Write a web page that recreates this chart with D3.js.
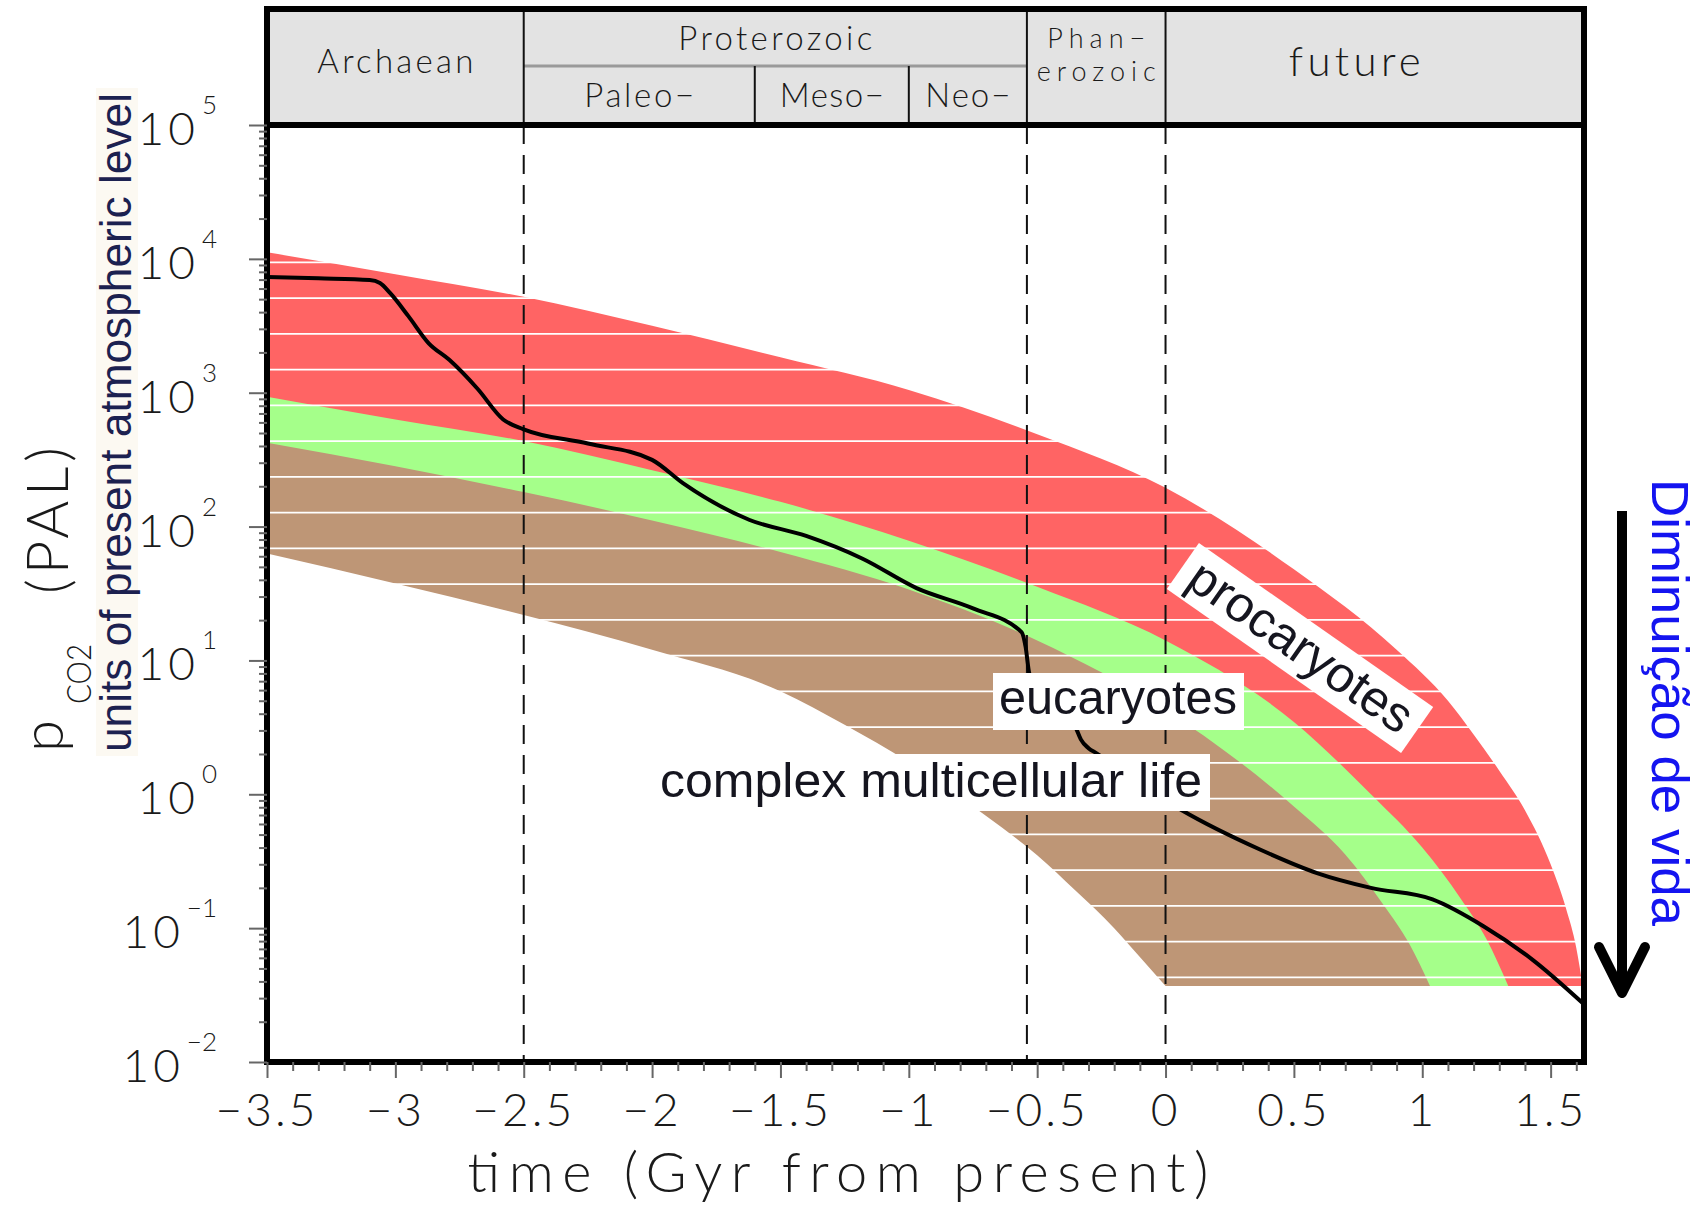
<!DOCTYPE html>
<html><head><meta charset="utf-8">
<script src="https://cdn.jsdelivr.net/npm/d3@7"></script>
<style>
html,body{margin:0;padding:0;background:#fff;}
svg{display:block;}
.hv{font-family:Lato,"DejaVu Sans",sans-serif;font-weight:300;fill:#1a1a1a;}
.lab{font-family:"Liberation Sans",Arial,Helvetica,sans-serif;fill:#15151f;}
</style></head><body>
<svg id="c" width="1708" height="1208"></svg>
<script>
// ---------------- data ----------------
const xMajorTicks = [-3.5,-3,-2.5,-2,-1.5,-1,-0.5,0,0.5,1,1.5];
const yDecades = [-2,-1,0,1,2,3,4,5];
const eraBoundaries = [-2.5,-0.54,0];
const subEraBoundaries = [-1.6,-1.0];
const eras = [
  {name:["Archaean"], from:-3.5, to:-2.5, row:"full"},
  {name:["Proterozoic"], from:-2.5, to:-0.54, row:"top"},
  {name:["Paleo−"], from:-2.5, to:-1.6, row:"bottom"},
  {name:["Meso−"], from:-1.6, to:-1.0, row:"bottom"},
  {name:["Neo−"], from:-1.0, to:-0.54, row:"bottom"},
  {name:["Phan−","erozoic"], from:-0.54, to:0, row:"full"},
  {name:["future"], from:0, to:1.63, row:"full"}
];
const floorPAL = 0.037;
// upper edge of procaryote domain (time Gyr, pCO2 PAL)
const procaryotesEdge = [[-3.5,11200],[-3.0,7670],[-2.5,5200],[-2.0,3160],[-1.5,1840],[-1.0,1050],[-0.5,490],[0,195],[0.5,47.9],[0.9,12.0],[1.1,5.0],[1.2,2.8],[1.3,1.5],[1.4,0.76],[1.5,0.30],[1.56,0.14],[1.6,0.071],[1.625,0.037]];
// upper edge of eucaryote domain
const eucaryotesEdge = [[-3.5,933],[-3.0,631],[-2.5,435],[-2.0,263],[-1.5,153],[-1.0,78.5],[-0.5,35.5],[0,14.1],[0.5,3.47],[0.8,1.0],[1.0,0.40],[1.15,0.166],[1.25,0.083],[1.335,0.037]];
// upper edge of complex multicellular life domain
const multicellularEdge = [[-3.5,423],[-3.0,282],[-2.5,181],[-2.0,111],[-1.5,64.6],[-1.0,33.9],[-0.5,14.1],[0,4.27],[0.5,0.81],[0.7,0.355],[0.85,0.148],[0.95,0.076],[1.03,0.037]];
// common lower edge of the domains
const lowerEdge = [[-3.5,62.8],[-3.0,37.6],[-2.5,21.8],[-2.0,12.0],[-1.5,5.89],[-1.25,3.31],[-1.0,1.74],[-0.7,0.69],[-0.5,0.35],[-0.35,0.19],[-0.2,0.10],[-0.1,0.061],[0,0.037]];
// pCO2 evolution
const pco2Curve = [[-3.5,7330],[-3.3,7160],[-3.1,6950],[-3.06,6600],[-3.02,5540],[-2.95,3750],[-2.87,2340],[-2.79,1760],[-2.68,1070],[-2.58,631],[-2.5,533],[-2.25,417],[-2.0,315],[-1.88,211],[-1.62,112],[-1.4,85.1],[-1.18,57.5],[-0.97,34.7],[-0.75,24.5],[-0.56,16.2],[-0.545,12.6],[-0.53,7.94],[-0.35,3.16],[-0.33,2.57],[-0.3,2.21],[-0.27,2.03],[0.06,0.766],[0.37,0.385],[0.59,0.258],[0.80,0.20],[1.04,0.164],[1.24,0.103],[1.43,0.058],[1.63,0.027]];

// ---------------- layout ----------------
const L = 267, R = 1584, T = 9, HB = 125, B = 1062;
const svg = d3.select("#c");
const x = d3.scaleLinear().domain([-3.5, 1.63]).range([L, R]);
const y = d3.scaleLog().domain([0.01, 1e5]).range([B, HB]);

const defs = svg.append("defs");
defs.append("clipPath").attr("id","plot").append("rect").attr("x",L).attr("y",HB).attr("width",R-L).attr("height",B-HB);

const plot = svg.append("g").attr("clip-path","url(#plot)");
const areaTo = (base) => d3.area().x(d=>x(d[0])).y0(base).y1(d=>y(d[1])).curve(d3.curveMonotoneX);
const fl = y(floorPAL);
plot.append("path").datum(procaryotesEdge).attr("d", areaTo(fl)).attr("fill","#ff6464");
plot.append("path").datum(eucaryotesEdge).attr("d", areaTo(fl)).attr("fill","#a5ff8a");
plot.append("path").datum(multicellularEdge).attr("d", areaTo(fl)).attr("fill","#be9676");
plot.append("path").datum(lowerEdge).attr("d", areaTo(B+5)).attr("fill","#ffffff");
// white hatch stripes
plot.selectAll("line.stripe").data(d3.range(226.55, B, 35.75)).join("line")
  .attr("x1",L).attr("x2",R).attr("y1",d=>d).attr("y2",d=>d)
  .attr("stroke","#ffffff").attr("stroke-width",1.8);
// dashed era lines
plot.selectAll("line.era").data(eraBoundaries).join("line")
  .attr("x1",d=>x(d)).attr("x2",d=>x(d)).attr("y1",HB).attr("y2",B)
  .attr("stroke","#111").attr("stroke-width",2).attr("stroke-dasharray","19 11");
// pCO2 curve
plot.append("path").datum(pco2Curve)
  .attr("d", d3.line().x(d=>x(d[0])).y(d=>y(d[1])).curve(d3.curveMonotoneX))
  .attr("fill","none").attr("stroke","#000").attr("stroke-width",4).attr("stroke-linejoin","round");

// labels
const g1 = svg.append("g");
g1.append("rect").attr("x",993).attr("y",673).attr("width",251).attr("height",57).attr("fill","#fff");
g1.append("text").attr("class","lab").attr("x",1118).attr("y",714).attr("text-anchor","middle")
  .attr("font-size",48).attr("textLength",238).attr("lengthAdjust","spacingAndGlyphs").text("eucaryotes");
g1.append("rect").attr("x",654).attr("y",754).attr("width",556).attr("height",57).attr("fill","#fff");
g1.append("text").attr("class","lab").attr("x",931).attr("y",797).attr("text-anchor","middle")
  .attr("font-size",48).attr("textLength",542).attr("lengthAdjust","spacingAndGlyphs").text("complex multicellular life");
const gp = svg.append("g").attr("transform","translate(1300,648) rotate(35)");
gp.append("rect").attr("x",-143).attr("y",-28).attr("width",286).attr("height",56).attr("fill","#fff");
gp.append("text").attr("class","lab").attr("x",0).attr("y",15).attr("text-anchor","middle")
  .attr("font-size",50).attr("textLength",262).attr("lengthAdjust","spacingAndGlyphs").text("procaryotes");

// header
svg.append("rect").attr("x",L).attr("y",T).attr("width",R-L).attr("height",HB-T).attr("fill","#e3e3e3");
svg.append("line").attr("x1",x(-2.5)).attr("x2",x(-0.54)).attr("y1",66).attr("y2",66).attr("stroke","#9a9a9a").attr("stroke-width",3);
svg.selectAll("line.hd").data(eraBoundaries).join("line")
  .attr("x1",d=>x(d)).attr("x2",d=>x(d)).attr("y1",T).attr("y2",HB).attr("stroke","#111").attr("stroke-width",2);
svg.selectAll("line.hs").data(subEraBoundaries).join("line")
  .attr("x1",d=>x(d)).attr("x2",d=>x(d)).attr("y1",66).attr("y2",HB).attr("stroke","#111").attr("stroke-width",2);
const headStyle = {
  "Archaean":{fs:33, ys:[73], w:156},
  "Proterozoic":{fs:33, ys:[50], w:194},
  "Paleo−":{fs:33, ys:[107], w:110},
  "Meso−":{fs:33, ys:[107], w:104},
  "Neo−":{fs:33, ys:[107], w:85},
  "Phan−":{fs:27, ys:[48,81], ls:6},
  "future":{fs:42, ys:[76], w:132, dx:-20}
};
eras.forEach(e=>{
  const st = headStyle[e.name[0]];
  const cx = (x(e.from)+x(e.to))/2 + (st.dx||0);
  const t = svg.append("text").attr("class","hv").attr("text-anchor","middle").attr("font-size",st.fs);
  if (e.name.length === 1) {
    t.attr("x",cx).attr("y",st.ys[0]).attr("textLength",st.w).attr("lengthAdjust","spacing").text(e.name[0]);
  } else {
    t.attr("letter-spacing",st.ls);
    e.name.forEach((s,i)=>{ t.append("tspan").attr("x",cx+st.ls/2).attr("y",st.ys[i]).text(s); });
  }
});

// frame
svg.append("rect").attr("x",L).attr("y",T).attr("width",R-L).attr("height",B-T)
  .attr("fill","none").attr("stroke","#000").attr("stroke-width",6);
svg.append("line").attr("x1",L).attr("x2",R).attr("y1",HB).attr("y2",HB).attr("stroke","#000").attr("stroke-width",6);

// axes
const styleAxis = g => { g.select(".domain").remove(); g.selectAll(".tick line").attr("stroke","#666").attr("stroke-width",2); };
const yMinor = [];
yDecades.slice(0,-1).forEach(d=>{ for(let m=2;m<=9;m++) yMinor.push(m*Math.pow(10,d)); });
svg.append("g").attr("transform",`translate(${L},0)`)
  .call(d3.axisLeft(y).tickValues(yDecades.map(d=>Math.pow(10,d))).tickSize(18).tickFormat(()=>"")).call(styleAxis);
svg.append("g").attr("transform",`translate(${L},0)`)
  .call(d3.axisLeft(y).tickValues(yMinor).tickSize(8).tickFormat(()=>"")).call(styleAxis);
const xMinor = d3.range(-35,17).map(i=>i/10).filter(v=>!xMajorTicks.some(m=>Math.abs(m-v)<1e-9));
svg.append("g").attr("transform",`translate(0,${B})`)
  .call(d3.axisBottom(x).tickValues(xMajorTicks).tickSize(16).tickFormat(()=>"")).call(styleAxis);
svg.append("g").attr("transform",`translate(0,${B})`)
  .call(d3.axisBottom(x).tickValues(xMinor).tickSize(9).tickFormat(()=>"")).call(styleAxis);

// y tick labels
yDecades.forEach(d=>{
  const t = svg.append("text").attr("class","hv").attr("x",217).attr("y",y(Math.pow(10,d))+20).attr("text-anchor","end");
  t.append("tspan").attr("font-size",46).attr("letter-spacing",4).text("10");
  t.append("tspan").attr("font-size",26).attr("dx",3).attr("dy",-31).text(d<0?"−"+(-d):String(d));
});
// x tick labels
svg.selectAll("text.xt").data(xMajorTicks).join("text").attr("class","hv")
  .attr("x",d=>x(d)).attr("y",1126).attr("text-anchor","middle").attr("font-size",46).attr("letter-spacing",3)
  .text(d=>d<0?"−"+Math.abs(d):String(d));

// axis titles
svg.append("text").attr("class","hv").attr("x",838).attr("y",1192).attr("text-anchor","middle")
  .attr("font-size",56).attr("textLength",741).attr("lengthAdjust","spacing").text("time (Gyr from present)");
svg.append("text").attr("class","hv").attr("transform","translate(63,752) rotate(-90)")
  .attr("font-size",58).text("p");
svg.append("text").attr("class","hv").attr("transform","translate(91,752) rotate(-90)")
  .attr("x",48).attr("font-size",34).attr("textLength",60).attr("lengthAdjust","spacingAndGlyphs").text("CO2");
svg.append("text").attr("class","hv").attr("transform","translate(68,752) rotate(-90)")
  .attr("x",158).attr("font-size",58).attr("textLength",147).attr("lengthAdjust","spacing").text("(PAL)");
svg.append("rect").attr("x",96).attr("y",88).attr("width",42).attr("height",668).attr("fill","#fcf9f2");
svg.append("text").attr("class","lab").attr("transform","translate(131,752) rotate(-90)")
  .attr("font-size",44).style("fill","#1c2150").attr("textLength",659).attr("lengthAdjust","spacingAndGlyphs")
  .text("units of present atmospheric level");

// annotation arrow
svg.append("line").attr("x1",1622).attr("x2",1622).attr("y1",511).attr("y2",990).attr("stroke","#000").attr("stroke-width",10);
svg.append("path").attr("d","M1599,947 L1622,993 L1645,947").attr("fill","none").attr("stroke","#000")
  .attr("stroke-width",10).attr("stroke-linecap","round").attr("stroke-linejoin","round");
svg.append("text").attr("class","lab").attr("transform","translate(1652,479) rotate(90)")
  .attr("font-size",52).style("fill","#1414f0").attr("textLength",447).attr("lengthAdjust","spacingAndGlyphs")
  .text("Diminuição de vida");
</script>
</body></html>
